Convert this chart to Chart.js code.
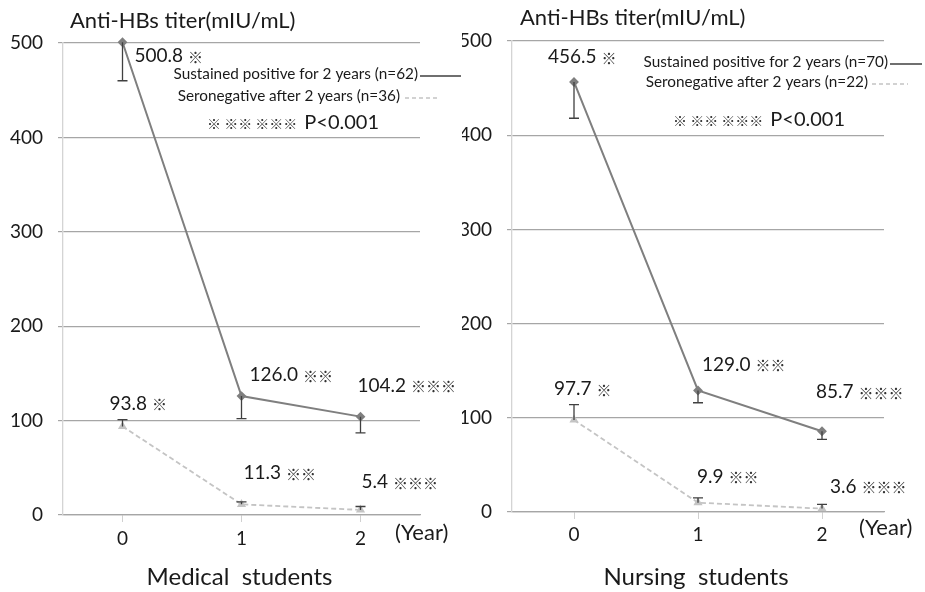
<!DOCTYPE html>
<html>
<head>
<meta charset="utf-8">
<script src="https://cdn.jsdelivr.net/npm/chart.js@4"></script>
<style>
  body { margin: 0; background: #fff; }
  .wrap { position: absolute; top: 0; }
</style>
</head>
<body>
<div class="wrap" style="left:0"><canvas id="medChart" width="462" height="592"></canvas></div>
<div class="wrap" style="left:462px"><canvas id="nurChart" width="463" height="592"></canvas></div>
<script>
// data
const years = ['0', '1', '2'];
const marks = ['※', '※※', '※※※'];

const medPositive = [500.8, 126.0, 104.2];
const medPositiveLow = [460, 102, 87];
const medNegative = [93.8, 11.3, 5.4];
const medNegativeHigh = [101, 14, 9];
const medNames = ['Sustained positive for 2 years (n=62)', 'Seronegative after 2 years (n=36)'];

const nurPositive = [456.5, 129.0, 85.7];
const nurPositiveLow = [418, 116, 77];
const nurNegative = [97.7, 9.9, 3.6];
const nurNegativeHigh = [114, 15, 8];
const nurNames = ['Sustained positive for 2 years (n=70)', 'Seronegative after 2 years (n=22)'];

const yMax = 500;
const yStep = 100;

const FONT = 'Lato, "Open Sans", sans-serif';
const CJK = '"Noto Sans CJK JP", sans-serif';
const DARK = '#7f7f7f';
const LIGHT = '#c4c4c4';

// draws error bars from the point down/up to the given value
const errorBars = {
    id: 'errorBars',
    afterDatasetsDraw(chart, args, opts) {
        const ctx = chart.ctx;
        const x = chart.scales.x, y = chart.scales.y;
        ctx.save();
        ctx.strokeStyle = '#404040';
        ctx.lineWidth = 1.3;
        chart.data.datasets.forEach((ds, di) => {
            const ends = opts.ends[di];
            ds.data.forEach((v, i) => {
                const px = x.getPixelForValue(i);
                const y1 = y.getPixelForValue(v);
                const y2 = y.getPixelForValue(ends[i]);
                ctx.beginPath();
                ctx.moveTo(px, y1);
                ctx.lineTo(px, y2);
                ctx.moveTo(px - 5, y2);
                ctx.lineTo(px + 5, y2);
                ctx.stroke();
            });
        });
        ctx.restore();
    }
};

function drawMarked(ctx, x, y, num, mark) {
    ctx.textAlign = 'left';
    ctx.textBaseline = 'middle';
    ctx.fillStyle = '#1a1a1a';
    ctx.font = '19px ' + FONT;
    ctx.fillText(num, x, y);
    const w = ctx.measureText(num + ' ').width;
    ctx.font = '15px ' + CJK;
    ctx.fillStyle = '#333';
    ctx.fillText(mark, x + w, y + 1);
}

// titles, legend, value labels
const annotations = {
    id: 'annotations',
    afterDraw(chart, args, o) {
        const ctx = chart.ctx;
        const x = chart.scales.x, y = chart.scales.y;
        const area = chart.chartArea;
        ctx.save();
        ctx.fillStyle = '#1a1a1a';
        ctx.textBaseline = 'middle';

        ctx.font = '22px ' + FONT;
        ctx.textAlign = 'left';
        ctx.fillText('Anti-HBs titer(mIU/mL)', o.titleX, o.titleY);

        ctx.font = '22px ' + FONT;
        ctx.fillText('(Year)', area.right - 25, o.yearY);

        ctx.font = '24px ' + FONT;
        ctx.textAlign = 'center';
        ctx.fillText(o.group, (area.left + area.right) / 2 - 2, 577);

        // legend
        ctx.font = '15.3px ' + FONT;
        ctx.textAlign = 'right';
        o.legend.forEach((row, i) => {
            ctx.fillStyle = '#1a1a1a';
            ctx.fillText(o.names[i], row.tx, row.y);
            ctx.beginPath();
            ctx.strokeStyle = i === 0 ? '#6f6f6f' : LIGHT;
            ctx.lineWidth = i === 0 ? 2 : 1.5;
            ctx.setLineDash(i === 0 ? [] : [4, 3]);
            ctx.moveTo(row.x1, row.y + 2);
            ctx.lineTo(row.x2, row.y + 2);
            ctx.stroke();
        });
        ctx.setLineDash([]);

        // significance note
        ctx.textAlign = 'left';
        ctx.font = '14px ' + CJK;
        ctx.fillStyle = '#333';
        ctx.fillText('※ ※※ ※※※', o.noteX, o.noteY + 1);
        const w = ctx.measureText('※ ※※ ※※※').width;
        ctx.font = '20px ' + FONT;
        ctx.fillStyle = '#1a1a1a';
        ctx.fillText('P<0.001', o.noteX + w + 7, o.noteY);

        // value labels beside each point
        chart.data.datasets.forEach((ds, di) => {
            ds.data.forEach((v, i) => {
                const off = o.offsets[di][i];
                const px = x.getPixelForValue(i) + off[0];
                const py = y.getPixelForValue(v) + off[1];
                drawMarked(ctx, px, py, v.toFixed(1), marks[i]);
            });
        });
        ctx.restore();
    }
};

function makeChart(id, pos, neg, posLow, negHigh, side) {
    const s = side;
    return new Chart(document.getElementById(id), {
        type: 'line',
        data: {
            labels: years,
            datasets: [
                {
                    label: s.names[0],
                    data: pos,
                    borderColor: DARK,
                    borderWidth: 2,
                    pointStyle: 'rectRot',
                    pointRadius: 3.5,
                    pointBackgroundColor: DARK,
                    pointBorderColor: DARK,
                    clip: false,
                },
                {
                    label: s.names[1],
                    data: neg,
                    borderColor: LIGHT,
                    borderWidth: 1.8,
                    borderDash: [5, 3],
                    pointStyle: 'triangle',
                    pointRadius: 3.5,
                    pointBackgroundColor: LIGHT,
                    pointBorderColor: LIGHT,
                    clip: false,
                },
            ]
        },
        options: {
            responsive: false,
            animation: false,
            layout: { padding: { left: 0, top: s.top, right: s.right, bottom: 0 } },
            scales: {
                x: {
                    type: 'category',
                    offset: true,
                    afterFit: (sc) => { sc.height = s.xHeight; },
                    grid: { drawOnChartArea: false, drawTicks: true, tickLength: 7, color: '#d0d0d0' },
                    border: { color: '#a6a6a6', width: 1.3 },
                    ticks: { color: '#1a1a1a', font: { family: FONT, size: 19 }, padding: s.xPad },
                },
                y: {
                    min: 0,
                    max: yMax,
                    afterFit: (sc) => { sc.width = s.yWidth; },
                    grid: { color: '#a6a6a6', lineWidth: 1.2, tickLength: 5 },
                    border: { color: '#d4d4d4', width: 1.3 },
                    ticks: { stepSize: yStep, color: '#1a1a1a', font: { family: FONT, size: 19 }, padding: 15 },
                }
            },
            plugins: {
                legend: { display: false },
                tooltip: { enabled: false },
                errorBars: { ends: [posLow, negHigh] },
                annotations: s,
            }
        },
        plugins: [errorBars, annotations]
    });
}

makeChart('medChart', medPositive, medNegative, medPositiveLow, medNegativeHigh, {
    group: 'Medical  students',
    names: medNames,
    top: 43, right: 42, yWidth: 63, xHeight: 77, xPad: 5,
    titleX: 70, titleY: 21, yearY: 533,
    noteX: 207, noteY: 123,
    legend: [
        { tx: 418, y: 74, x1: 420, x2: 461 },
        { tx: 400, y: 96, x1: 405, x2: 438 },
    ],
    offsets: [
        [[12, 14], [8, -21], [-3, -31]],
        [[-13, -23], [2, -31], [1, -28]],
    ],
});

makeChart('nurChart', nurPositive, nurNegative, nurPositiveLow, nurNegativeHigh, {
    group: 'Nursing  students',
    names: nurNames,
    top: 41, right: 41, yWidth: 50, xHeight: 80, xPad: 4,
    titleX: 58, titleY: 18, yearY: 528,
    noteX: 211, noteY: 120,
    legend: [
        { tx: 426, y: 62, x1: 428, x2: 460 },
        { tx: 406, y: 82, x1: 410, x2: 446 },
    ],
    offsets: [
        [[-26, -25], [4, -26], [-6, -39]],
        [[-20, -31], [-1, -26], [8, -22]],
    ],
});
</script>
</body>
</html>
